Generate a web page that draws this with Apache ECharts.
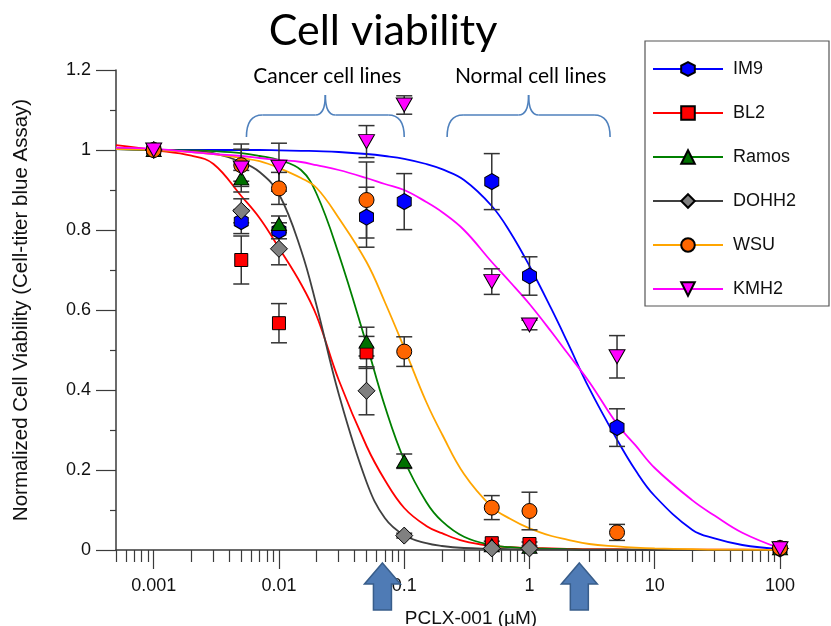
<!DOCTYPE html>
<html>
<head>
<meta charset="utf-8">
<script src="https://cdn.jsdelivr.net/npm/echarts@6/dist/echarts.min.js"></script>
<style>
  html, body { margin: 0; padding: 0; background: #fff; }
  #chart { width: 831px; height: 626px; }
</style>
</head>
<body>
<div id="chart"></div>
<script>
const doses = [0.001, 0.005, 0.01, 0.05, 0.1, 0.5, 1, 5, 100];
const im9    = [1.0, 0.821, 0.798, 0.832, 0.871, 0.921, 0.685, 0.306, 0.003];
const im9Err = [0, 0.03, 0.02, 0.075, 0.07, 0.07, 0.048, 0.047, 0];
const bl2    = [1.0, 0.725, 0.567, 0.494, null, 0.017, 0.015, null, 0.005];
const bl2Err = [0, 0.06, 0.049, 0.04, 0, 0.005, 0.005, 0, 0];
const ramos    = [1.0, 0.929, 0.815, 0.521, 0.222, 0.012, 0.008, null, 0.004];
const ramosErr = [0, 0.02, 0.02, 0.036, 0.018, 0, 0, 0, 0];
const dohh2    = [1.0, 0.848, 0.753, 0.398, 0.036, 0.004, 0.004, null, 0.004];
const dohh2Err = [0, 0.03, 0.04, 0.06, 0.006, 0, 0, 0, 0];
const wsu    = [1.0, 0.962, 0.904, 0.875, 0.496, 0.106, 0.0975, 0.044, 0.005];
const wsuErr = [0, 0.04, 0.04, 0.095, 0.037, 0.03, 0.047, 0.02, 0];
const kmh2    = [1.0, 0.955, 0.957, 1.021, 1.1125, 0.671, 0.5625, 0.483, 0.003];
const kmh2Err = [0, 0.06, 0.06, 0.04, 0.023, 0.032, 0.012, 0.053, 0];

// fitted curves
const fitDoses = [0.0005, 0.001, 0.002, 0.003, 0.005, 0.007, 0.01, 0.015, 0.02, 0.03, 0.05, 0.07, 0.1, 0.15, 0.2, 0.3, 0.5, 0.7, 1, 1.5, 2, 3, 5, 7, 10, 20, 30, 50, 100];
const im9Fit   = [1.002, 1.0, 1.0, 1.0, 1.0, 1.0, 0.999, 0.998, 0.997, 0.995, 0.99, 0.985, 0.978, 0.965, 0.952, 0.925, 0.86, 0.795, 0.71, 0.602, 0.521, 0.404, 0.276, 0.2, 0.135, 0.05, 0.029, 0.0125, 0.002];
const bl2Fit   = [1.012, 1.0, 0.986, 0.965, 0.885, 0.83, 0.755, 0.665, 0.585, 0.425, 0.26, 0.175, 0.105, 0.06, 0.042, 0.022, 0.01, 0.007, 0.005, 0.004, 0.003, 0.002, 0.002, 0.001, 0.001, 0.001, 0.001, 0.001, 0.0];
const ramosFit = [1.002, 1.0, 0.999, 0.997, 0.992, 0.985, 0.975, 0.95, 0.89, 0.74, 0.515, 0.36, 0.225, 0.12, 0.072, 0.033, 0.012, 0.007, 0.004, 0.003, 0.002, 0.001, 0.001, 0.001, 0.001, 0.0, 0.0, 0.0, 0.0];
const dohh2Fit = [1.003, 1.0, 0.997, 0.992, 0.97, 0.945, 0.89, 0.75, 0.61, 0.39, 0.17, 0.08, 0.037, 0.017, 0.01, 0.005, 0.003, 0.002, 0.001, 0.001, 0.001, 0.0, 0.0, 0.0, 0.0, 0.0, 0.0, 0.0, 0.0];
const wsuFit   = [1.002, 1.0, 0.995, 0.99, 0.98, 0.972, 0.955, 0.93, 0.905, 0.83, 0.72, 0.62, 0.505, 0.37, 0.29, 0.19, 0.108, 0.078, 0.054, 0.035, 0.026, 0.015, 0.009, 0.006, 0.004, 0.002, 0.001, 0.001, 0.0];
const kmh2Fit  = [1.006, 1.003, 0.995, 0.99, 0.985, 0.98, 0.975, 0.97, 0.962, 0.95, 0.93, 0.915, 0.9, 0.87, 0.845, 0.8, 0.72, 0.67, 0.615, 0.545, 0.493, 0.42, 0.315, 0.262, 0.205, 0.124, 0.086, 0.043, 0.004];

const xTicks = [0.001, 0.01, 0.1, 1, 10, 100];
const xMinorTicks = [
  0.0005, 0.0006, 0.0007, 0.0008, 0.0009,
  0.002, 0.003, 0.004, 0.005, 0.006, 0.007, 0.008, 0.009,
  0.02, 0.03, 0.04, 0.05, 0.06, 0.07, 0.08, 0.09,
  0.2, 0.3, 0.4, 0.5, 0.6, 0.7, 0.8, 0.9,
  2, 3, 4, 5, 6, 7, 8, 9,
  20, 30, 40, 50, 60, 70, 80, 90
];

// annotations (x in µM, y in viability units)
const braceRanges = [[0.0055, 0.1], [0.22, 4.4]];
const braceLabels = ['Cancer cell lines', 'Normal cell lines'];
const arrowDoses = [0.067, 2.5];

const HEX = 'path://M0,-10 L8.66,-5 L8.66,5 L0,10 L-8.66,5 L-8.66,-5 Z';
const TRI_DOWN = 'path://M-10,-8 L10,-8 L0,9 Z';

const lines = [
  { name: 'IM9',   pts: im9,   err: im9Err,   fit: im9Fit,   line: '#0000ff', fill: '#0000ff', symbol: HEX,        size: [14, 16] },
  { name: 'BL2',   pts: bl2,   err: bl2Err,   fit: bl2Fit,   line: '#ff0000', fill: '#ff0000', symbol: 'rect',     size: 13 },
  { name: 'Ramos', pts: ramos, err: ramosErr, fit: ramosFit, line: '#008000', fill: '#007000', symbol: 'triangle', size: [15, 13] },
  { name: 'DOHH2', pts: dohh2, err: dohh2Err, fit: dohh2Fit, line: '#404040', fill: '#808080', symbol: 'diamond',  size: [17, 17] },
  { name: 'WSU',   pts: wsu,   err: wsuErr,   fit: wsuFit,   line: '#ffa500', fill: '#ff6600', symbol: 'circle',   size: 15 },
  { name: 'KMH2',  pts: kmh2,  err: kmh2Err,  fit: kmh2Fit,  line: '#ff00ff', fill: '#ff00ff', symbol: TRI_DOWN,   size: [16, 14] }
];

function renderErr(params, api) {
  const x = api.value(0);
  const hi = api.coord([x, api.value(2)]);
  const lo = api.coord([x, api.value(1)]);
  const w = 8;
  const style = { stroke: '#333', lineWidth: 1.5, fill: null };
  return {
    type: 'group',
    children: [
      { type: 'line', shape: { x1: hi[0], y1: hi[1], x2: lo[0], y2: lo[1] }, style: style },
      { type: 'line', shape: { x1: hi[0] - w, y1: hi[1], x2: hi[0] + w, y2: hi[1] }, style: style },
      { type: 'line', shape: { x1: lo[0] - w, y1: lo[1], x2: lo[0] + w, y2: lo[1] }, style: style }
    ]
  };
}

const series = [];
lines.forEach(function (s) {
  series.push({
    name: s.name,
    type: 'line',
    data: fitDoses.map(function (d, i) { return [d, s.fit[i]]; }),
    showSymbol: false,
    symbol: s.symbol,
    symbolSize: s.size,
    smooth: 0.4,
    lineStyle: { color: s.line, width: 1.8 },
    itemStyle: { color: s.fill, borderColor: '#000', borderWidth: 1 },
    silent: true,
    z: 2
  });
});
lines.forEach(function (s) {
  const errData = [];
  const ptData = [];
  doses.forEach(function (d, i) {
    if (s.pts[i] == null) return;
    ptData.push([d, s.pts[i]]);
    if (s.err[i] > 0) errData.push([d, s.pts[i] - s.err[i], s.pts[i] + s.err[i]]);
  });
  series.push({
    name: s.name + ' err',
    type: 'custom',
    renderItem: renderErr,
    data: errData,
    encode: { x: 0, y: [1, 2] },
    clip: false,
    silent: true,
    z: 3
  });
  series.push({
    name: s.name + ' data',
    type: 'scatter',
    data: ptData,
    symbol: s.symbol,
    symbolSize: s.size,
    itemStyle: { color: s.fill, borderColor: '#000', borderWidth: 1, opacity: 1 },
    clip: false,
    silent: true,
    z: 3
  });
});

const chart = echarts.init(document.getElementById('chart'), null, { renderer: 'canvas' });

const axisColor = '#3a3a3a';
const labelFont = { fontFamily: 'Liberation Sans', fontSize: 18, color: '#111' };

chart.setOption({
  animation: false,
  backgroundColor: '#fff',
  grid: { left: 116, right: 51, top: 70, bottom: 76, containLabel: false, outerBoundsMode: 'none' },
  legend: {
    data: lines.map(function (s) { return s.name; }),
    orient: 'vertical',
    left: 647,
    top: 55,
    itemWidth: 70,
    itemHeight: 17,
    itemGap: 26,
    textStyle: { fontFamily: 'Liberation Sans', fontSize: 18, color: '#111', padding: [0, 0, 0, 5] },
    selectedMode: false
  },
  xAxis: [{
    type: 'log',
    logBase: 10,
    min: 0.0005,
    max: 100,
    name: 'PCLX-001 (µM)',
    nameLocation: 'middle',
    nameGap: 59,
    nameTextStyle: { fontFamily: 'Liberation Sans', fontSize: 19, color: '#111', padding: [0, 0, 0, 46] },
    axisLine: { lineStyle: { color: axisColor, width: 1.5 } },
    axisTick: { customValues: xTicks, length: 19, lineStyle: { color: axisColor, width: 1.2 } },
    axisLabel: Object.assign({ customValues: xTicks, margin: 27, formatter: function (v) { return String(v); } }, labelFont),
    splitLine: { show: false }
  }, {
    type: 'log',
    logBase: 10,
    min: 0.0005,
    max: 100,
    position: 'bottom',
    axisLine: { show: false },
    axisTick: { customValues: xMinorTicks, length: 12, lineStyle: { color: axisColor, width: 1.2 } },
    axisLabel: { show: false },
    splitLine: { show: false }
  }],
  yAxis: {
    type: 'value',
    min: 0,
    max: 1.2,
    interval: 0.2,
    name: 'Normalized Cell Viability (Cell-titer blue Assay)',
    nameLocation: 'middle',
    nameGap: 84,
    nameTextStyle: { fontFamily: 'Liberation Sans', fontSize: 20.5, color: '#111' },
    axisLine: { show: true, lineStyle: { color: axisColor, width: 1.5 } },
    axisTick: { show: true, length: 20, lineStyle: { color: axisColor, width: 1.2 } },
    minorTick: { show: true, splitNumber: 2, length: 6, lineStyle: { color: axisColor, width: 1.2 } },
    axisLabel: Object.assign({ margin: 25, formatter: function (v) { return String(+v.toFixed(1)); } }, labelFont),
    splitLine: { show: false }
  },
  series: series
});

// annotations anchored to the axes
function px(x, y) { return chart.convertToPixel({ xAxisIndex: 0, yAxisIndex: 0 }, [x, y]); }
const braceColor = '#4f81bd';
const braceStyle = { stroke: braceColor, lineWidth: 1.6, fill: null };
const graphics = [];
graphics.push({
  type: 'text', x: 383, y: 31,
  style: { text: 'Cell viability', fontFamily: 'Lato', fontSize: 43, fill: '#000', textAlign: 'center', textVerticalAlign: 'middle' },
  z: 10
});
function seg(type, shape) {
  graphics.push({ type: type, shape: shape, style: braceStyle, z: 10 });
}
braceRanges.forEach(function (r, i) {
  const a = px(r[0], 0)[0];
  const b = px(r[1], 0)[0];
  const yEnd = px(r[0], 1.0325)[1];
  const yMid = px(r[0], 1.0875)[1];
  const yTip = px(r[0], 1.1375)[1];
  const xm = (a + b) / 2;
  seg('bezierCurve', { x1: a, y1: yEnd, cpx1: a, cpy1: yMid, x2: a + 16, y2: yMid });
  seg('line', { x1: a + 16, y1: yMid, x2: xm - 10, y2: yMid });
  seg('bezierCurve', { x1: xm - 10, y1: yMid, cpx1: xm, cpy1: yMid, x2: xm, y2: yTip });
  seg('bezierCurve', { x1: xm, y1: yTip, cpx1: xm, cpy1: yMid, x2: xm + 10, y2: yMid });
  seg('line', { x1: xm + 10, y1: yMid, x2: b - 16, y2: yMid });
  seg('bezierCurve', { x1: b - 16, y1: yMid, cpx1: b, cpy1: yMid, x2: b, y2: yEnd });
  graphics.push({
    type: 'text', x: xm + 2, y: 76,
    style: { text: braceLabels[i], fontFamily: 'Lato', fontSize: 21, fill: '#000', textAlign: 'center', textVerticalAlign: 'middle' },
    z: 10
  });
});
const axisY = px(1, 0)[1];
arrowDoses.forEach(function (d) {
  const cx = px(d, 0)[0];
  const t = axisY + 13, hb = axisY + 34, base = axisY + 60;
  graphics.push({
    type: 'polygon',
    shape: { points: [[cx, t], [cx + 18, hb], [cx + 9, hb], [cx + 9, base], [cx - 9, base], [cx - 9, hb], [cx - 18, hb]] },
    style: { fill: '#4f7bb5', stroke: '#385d8a', lineWidth: 1.5 },
    z: 10
  });
});
graphics.push({
  type: 'rect', shape: { x: 645, y: 41, width: 184, height: 265 },
  style: { fill: null, stroke: '#555', lineWidth: 1.2 }, z: 1
});
chart.setOption({ graphic: graphics });
</script>
</body>
</html>
